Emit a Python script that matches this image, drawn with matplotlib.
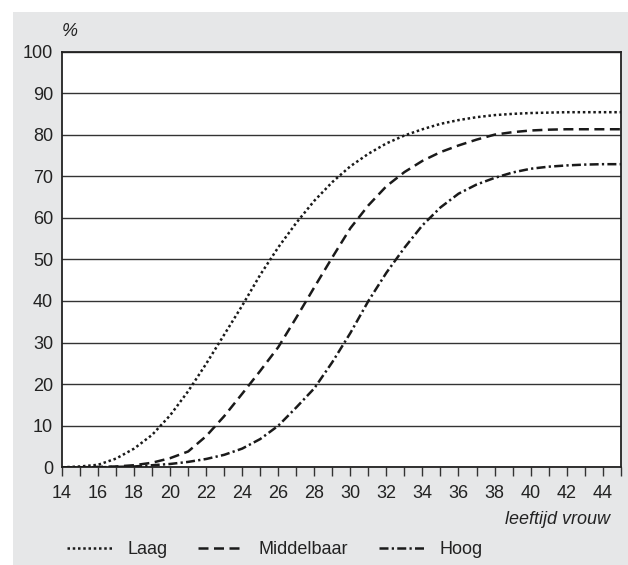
import matplotlib
matplotlib.use("Agg")
import matplotlib.pyplot as plt
from matplotlib.patches import Rectangle

plt.rcParams['font.family'] = ['Liberation Sans', 'DejaVu Sans']

# leeftijd vrouw (jaren) en cumulatief percentage per opleidingsniveau
ages = list(range(14, 46))
laag = [0.0, 0.2, 0.6, 2.1, 4.5, 7.8, 12.5, 18.3, 24.9, 31.9, 38.9, 46.3,
        52.9, 58.8, 64.1, 68.6, 72.4, 75.4, 77.9, 79.8, 81.3, 82.6, 83.5,
        84.2, 84.7, 85.0, 85.2, 85.3, 85.4, 85.4, 85.4, 85.4]
middelbaar = [0.0, 0.0, 0.1, 0.2, 0.5, 1.1, 2.2, 3.8, 7.5, 12.3, 17.7, 23.2,
              28.9, 36.0, 43.3, 50.5, 57.5, 63.0, 67.6, 71.0, 73.7, 75.8,
              77.4, 78.8, 80.0, 80.6, 81.0, 81.2, 81.3, 81.3, 81.3, 81.3]
hoog = [0.0, 0.0, 0.0, 0.1, 0.2, 0.5, 0.8, 1.3, 2.0, 3.0, 4.5, 6.8, 10.0,
        14.4, 19.0, 25.3, 32.3, 40.0, 46.8, 52.8, 58.2, 62.5, 65.8, 68.0,
        69.6, 70.9, 71.8, 72.3, 72.6, 72.8, 72.9, 72.9]

series_names = ['Laag', 'Middelbaar', 'Hoog']
x_major = list(range(14, 45, 2))
x_minor = list(range(15, 46, 2))
y_ticks = list(range(0, 101, 10))

W, H = 628, 565
fig = plt.figure(figsize=(W / 100, H / 100), dpi=100, facecolor='white')

# grijze achtergrond
fig.patches.append(Rectangle((13 / W, 0), 1, 1 - 12 / H, transform=fig.transFigure,
                             facecolor='#e6e7e8', edgecolor='none', zorder=-5))

ax = fig.add_axes([62 / W, (H - 467.3) / H, 558.7 / W, (467.3 - 51.5) / H])
ax.set_facecolor('white')

styles = [(0, (1, 1.1)), (0, (4, 2.2)), (0, (3.6, 1.3, 0.9, 1.3))]
for vals, name, ls in zip([laag, middelbaar, hoog], series_names, styles):
    ax.plot(ages, vals, color='#1a1a1a', lw=1.8, linestyle=ls, label=name,
            zorder=3)

ax.set_xlim(14, 45)
ax.set_ylim(0, 100)
ax.set_xticks(x_major)
ax.set_xticks(x_minor, minor=True)
ax.set_yticks(y_ticks)

ax.yaxis.grid(True, color='#333333', lw=1.0)
ax.set_axisbelow(True)

for sp in ax.spines.values():
    sp.set_color('#222222')
    sp.set_linewidth(1.3)

ax.tick_params(axis='y', length=0, pad=6.5, labelsize=13, labelcolor='#222222')
ax.tick_params(axis='x', which='both', direction='out', length=6.5, width=1,
               color='#333333', pad=6, labelsize=13, labelcolor='#222222')

fig.text(62 / W, 1 - 31.7 / H, '%', fontsize=13, style='italic',
         ha='left', va='center', color='#222222')
fig.text(610 / W, 1 - 520 / H, 'leeftijd vrouw', fontsize=13, style='italic',
         ha='right', va='center', color='#222222')

fig.legend(loc='center left', bbox_to_anchor=(66.7 / W, 1 - 550 / H),
           ncol=3, frameon=False, fontsize=13, handlelength=2.5,
           handletextpad=0.86, columnspacing=1.7, borderpad=0,
           borderaxespad=0, labelcolor='#222222')

fig.savefig('out.png', dpi=100, facecolor='white')
